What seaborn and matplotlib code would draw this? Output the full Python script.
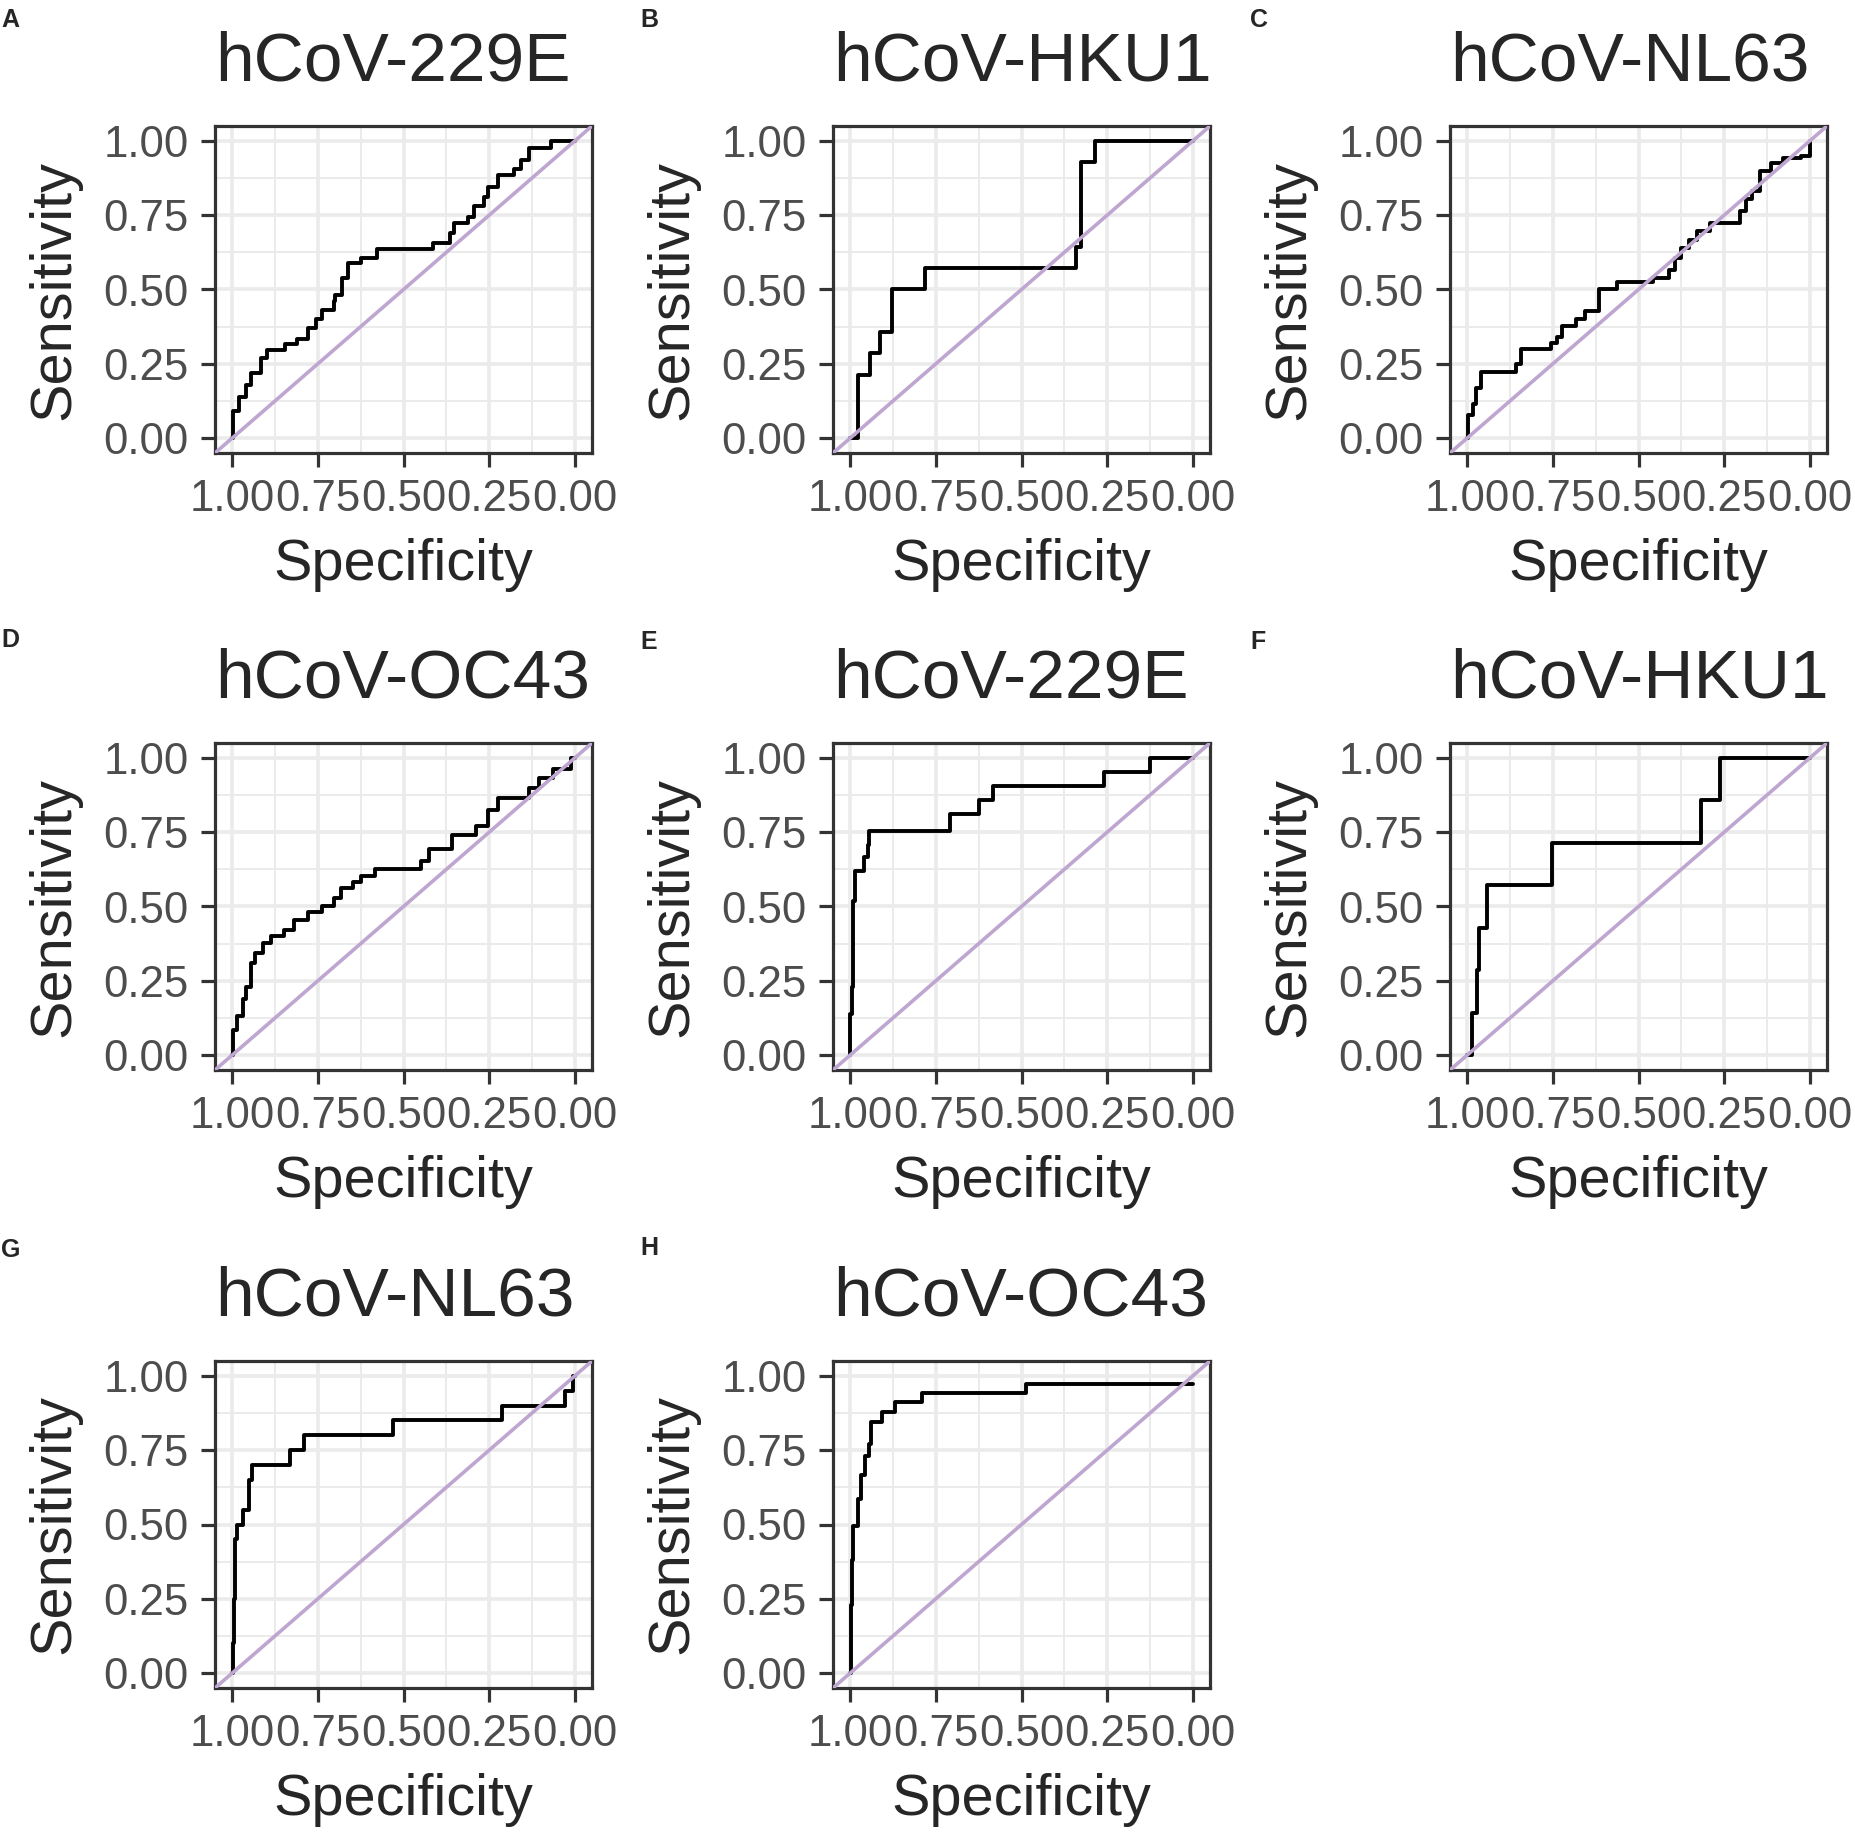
import numpy as np
import pandas as pd
import seaborn as sns
import matplotlib.pyplot as plt

# panel titles and letters
titles = ['hCoV-229E', 'hCoV-HKU1', 'hCoV-NL63', 'hCoV-OC43',
          'hCoV-229E', 'hCoV-HKU1', 'hCoV-NL63', 'hCoV-OC43']
letters = ['A', 'B', 'C', 'D', 'E', 'F', 'G', 'H']

# ROC step corners (specificity, sensitivity)
spec_a = [1.0, 0.998, 0.980, 0.960, 0.946, 0.917, 0.897, 0.845, 0.811, 0.779, 0.755, 0.738, 0.704, 0.700,
          0.678, 0.663, 0.623, 0.577, 0.415, 0.363, 0.352, 0.311, 0.294, 0.265, 0.254, 0.225, 0.179, 0.156,
          0.133, 0.069, 0.0]
sens_a = [0.0, 0.09, 0.14, 0.18, 0.22, 0.27, 0.295, 0.315, 0.335, 0.37, 0.40, 0.43, 0.46, 0.48,
          0.54, 0.59, 0.605, 0.635, 0.655, 0.69, 0.725, 0.745, 0.78, 0.81, 0.845, 0.885, 0.905, 0.935,
          0.975, 1.0, 1.0]

spec_b = [1.0, 0.977, 0.942, 0.913, 0.878, 0.782, 0.342, 0.326, 0.287, 0.0]
sens_b = [0.0, 0.214, 0.286, 0.357, 0.500, 0.571, 0.643, 0.929, 1.0, 1.0]

spec_c = [1.0, 0.997, 0.983, 0.973, 0.960, 0.856, 0.842, 0.754, 0.738, 0.723, 0.683, 0.657, 0.614, 0.562,
          0.458, 0.412, 0.394, 0.377, 0.354, 0.328, 0.291, 0.204, 0.187, 0.170, 0.146, 0.112, 0.077, 0.025, 0.0]
sens_c = [0.0, 0.077, 0.116, 0.17, 0.222, 0.249, 0.299, 0.32, 0.34, 0.378, 0.40, 0.427, 0.50, 0.524,
          0.54, 0.566, 0.606, 0.639, 0.665, 0.698, 0.725, 0.765, 0.804, 0.831, 0.90, 0.926, 0.944, 0.95, 1.0]

spec_d = [1.0, 0.998, 0.986, 0.967, 0.960, 0.944, 0.934, 0.911, 0.888, 0.848, 0.819, 0.779, 0.738, 0.704,
          0.681, 0.646, 0.623, 0.582, 0.450, 0.427, 0.358, 0.288, 0.254, 0.225, 0.133, 0.104, 0.063, 0.012, 0.0]
sens_d = [0.0, 0.085, 0.131, 0.19, 0.23, 0.31, 0.343, 0.376, 0.402, 0.422, 0.455, 0.481, 0.501, 0.528,
          0.561, 0.581, 0.601, 0.627, 0.653, 0.693, 0.739, 0.772, 0.825, 0.865, 0.898, 0.931, 0.964, 1.0, 1.0]

spec_e = [1.0, 1.0, 0.995, 0.993, 0.986, 0.961, 0.949, 0.946, 0.709, 0.623, 0.582, 0.260, 0.125, 0.0]
sens_e = [0.0, 0.138, 0.23, 0.52, 0.62, 0.667, 0.706, 0.753, 0.812, 0.858, 0.907, 0.954, 1.0, 1.0]

spec_f = [1.0, 0.985, 0.971, 0.965, 0.942, 0.752, 0.319, 0.262, 0.0]
sens_f = [0.0, 0.143, 0.286, 0.429, 0.571, 0.714, 0.857, 1.0, 1.0]

spec_g = [1.0, 0.998, 0.995, 0.992, 0.986, 0.967, 0.952, 0.943, 0.830, 0.790, 0.531, 0.213, 0.029, 0.006, 0.0]
sens_g = [0.0, 0.10, 0.25, 0.45, 0.50, 0.55, 0.65, 0.70, 0.75, 0.80, 0.85, 0.90, 0.95, 1.0, 1.0]

spec_h = [1.0, 0.998, 0.994, 0.992, 0.977, 0.967, 0.957, 0.946, 0.938, 0.908, 0.869, 0.790, 0.486, 0.0]
sens_h = [0.0, 0.229, 0.381, 0.494, 0.587, 0.666, 0.732, 0.772, 0.845, 0.878, 0.911, 0.942, 0.974, 0.974]

curves = [(spec_a, sens_a), (spec_b, sens_b), (spec_c, sens_c), (spec_d, sens_d),
          (spec_e, sens_e), (spec_f, sens_f), (spec_g, sens_g), (spec_h, sens_h)]

tick_vals = [1.0, 0.75, 0.5, 0.25, 0.0]
tick_labels = ['1.00', '0.75', '0.50', '0.25', '0.00']

sns.set_style('white')
plt.rcParams['font.family'] = ['Liberation Sans', 'DejaVu Sans']

W, H = 1855, 1842
fig = plt.figure(figsize=(W / 100, H / 100), dpi=100)

# axes boxes in pixels (left, top)
boxes = [(215, 126), (833, 126), (1450, 126),
         (215, 743), (833, 743), (1450, 743),
         (215, 1361), (833, 1361)]
letter_pos = [(1, 8), (640, 8), (1250, 8),
              (1, 628), (640, 630), (1250, 630),
              (1, 1238), (640, 1236)]
aw, ah = 377, 327

for i, (spec, sens) in enumerate(curves):
    left, top = boxes[i]
    ax = fig.add_axes([left / W, 1 - (top + ah) / H, aw / W, ah / H])
    df = pd.DataFrame({'Specificity': spec, 'Sensitivity': sens})
    sns.lineplot(data=df, x='Specificity', y='Sensitivity', ax=ax, sort=False, estimator=None,
                 color='black', lw=2.8, drawstyle='steps-post', zorder=3)
    ax.axline((1, 0), (0, 1), color='#BFA6D1', lw=2.6, zorder=4)

    ax.set_xlim(1.05, -0.05)
    ax.set_ylim(-0.05, 1.05)
    ax.set_xticks(tick_vals)
    ax.set_xticklabels(tick_labels)
    ax.set_yticks(tick_vals)
    ax.set_yticklabels(tick_labels)
    ax.set_xticks([0.875, 0.625, 0.375, 0.125], minor=True)
    ax.set_yticks([0.875, 0.625, 0.375, 0.125], minor=True)
    ax.grid(which='major', color='#EBEBEB', lw=2.6)
    ax.grid(which='minor', color='#EBEBEB', lw=1.4)
    ax.set_axisbelow(True)
    for s in ax.spines.values():
        s.set_color('#333333')
        s.set_linewidth(2.3)
    ax.tick_params(which='major', length=10, width=2.3, color='#333333', pad=9,
                   labelsize=31.5, labelcolor='#4D4D4D', bottom=True, left=True)
    ax.tick_params(which='minor', length=0)
    ax.set_xlabel('Specificity', fontsize=41.5, labelpad=13)
    ax.set_ylabel('Sensitivity', fontsize=41.5, labelpad=16)
    ax.set_title(titles[i], loc='left', fontsize=50, pad=33)

    lx, ly = letter_pos[i]
    fig.text(lx / W, 1 - ly / H, letters[i], fontsize=18, fontweight='bold', va='top', ha='left')

fig.savefig('out.png', dpi=100, facecolor='white')
